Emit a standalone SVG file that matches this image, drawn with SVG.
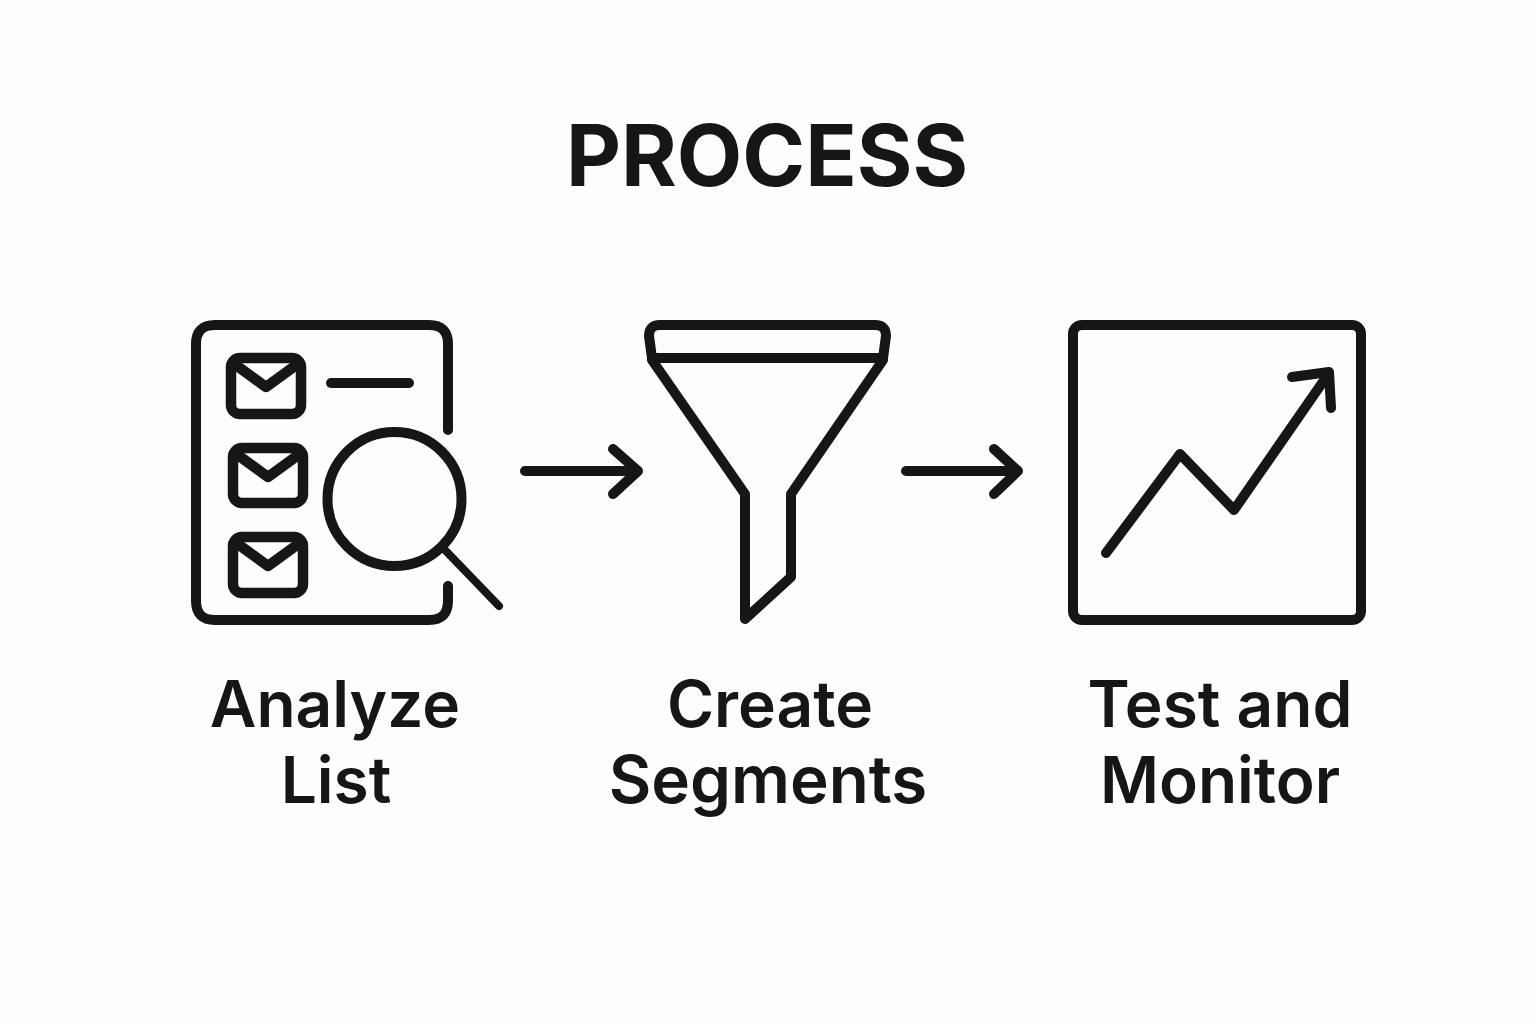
<svg xmlns="http://www.w3.org/2000/svg" width="1536" height="1024" viewBox="0 0 1536 1024">
<style>
.s{fill:none;stroke:#161616;stroke-width:10;stroke-linecap:round;stroke-linejoin:round}
.t{font-family:Inter,"Liberation Sans",sans-serif;fill:#161616;text-anchor:middle;font-weight:600;font-size:64px}
.h{font-weight:700;font-size:85px}
.thin{stroke-width:8}
.m{stroke-width:10.500}
</style>
<rect width="1536" height="1024" fill="#fdfdfd"/>
<text class="t h" x="767" y="186">PROCESS</text>
<g id="node-analyze">
<path class="s" d="M448 430V344Q448 325 429 325H215Q196 325 196 344V601Q196 620 215 620H429Q448 620 448 601V586"/>
<g id="mail1"><rect class="s m" x="231" y="358" width="70" height="56" rx="9"/><path class="s m" d="M233 363L266 387L299 363"/></g>
<g id="mail2"><rect class="s m" x="233" y="448" width="70" height="55" rx="9"/><path class="s m" d="M235 453L268 477L301 453"/></g>
<g id="mail3"><rect class="s m" x="233" y="537" width="70" height="56" rx="9"/><path class="s m" d="M235 542L268 566L301 542"/></g>
<path class="s" d="M331 383H409"/>
<circle class="s" cx="394.500" cy="499" r="67"/>
<path class="s thin" d="M444 549L499 606"/>
<text class="t" x="335" y="727">Analyze</text>
<text class="t" x="336" y="803">List</text>
</g>
<g id="node-segments">
<path class="s" d="M660 325H875Q886 325 886 336L883 358H652L649 336Q649 325 660 325Z"/>
<path class="s" d="M652 360L745 494V619L791 577V494L883 360"/>
<text class="t" x="770" y="727">Create</text>
<text class="t" x="768" y="803" style="font-size:65.500px">Segments</text>
</g>
<g id="node-monitor">
<rect class="s" x="1073" y="325" width="288" height="295" rx="9"/>
<path class="s" d="M1106 553L1180 454L1234 510L1327 376"/>
<path class="s" d="M1292 377L1329 372L1331 408"/>
<text class="t" x="1220" y="727">Test and</text>
<text class="t" x="1220" y="803">Monitor</text>
</g>
<g id="connectors">
<path class="s" d="M525 471H636M613 449L638 471L613 494"/>
<path class="s" d="M906 471H1017M994 449L1018 471L994 494"/>
</g>
</svg>
